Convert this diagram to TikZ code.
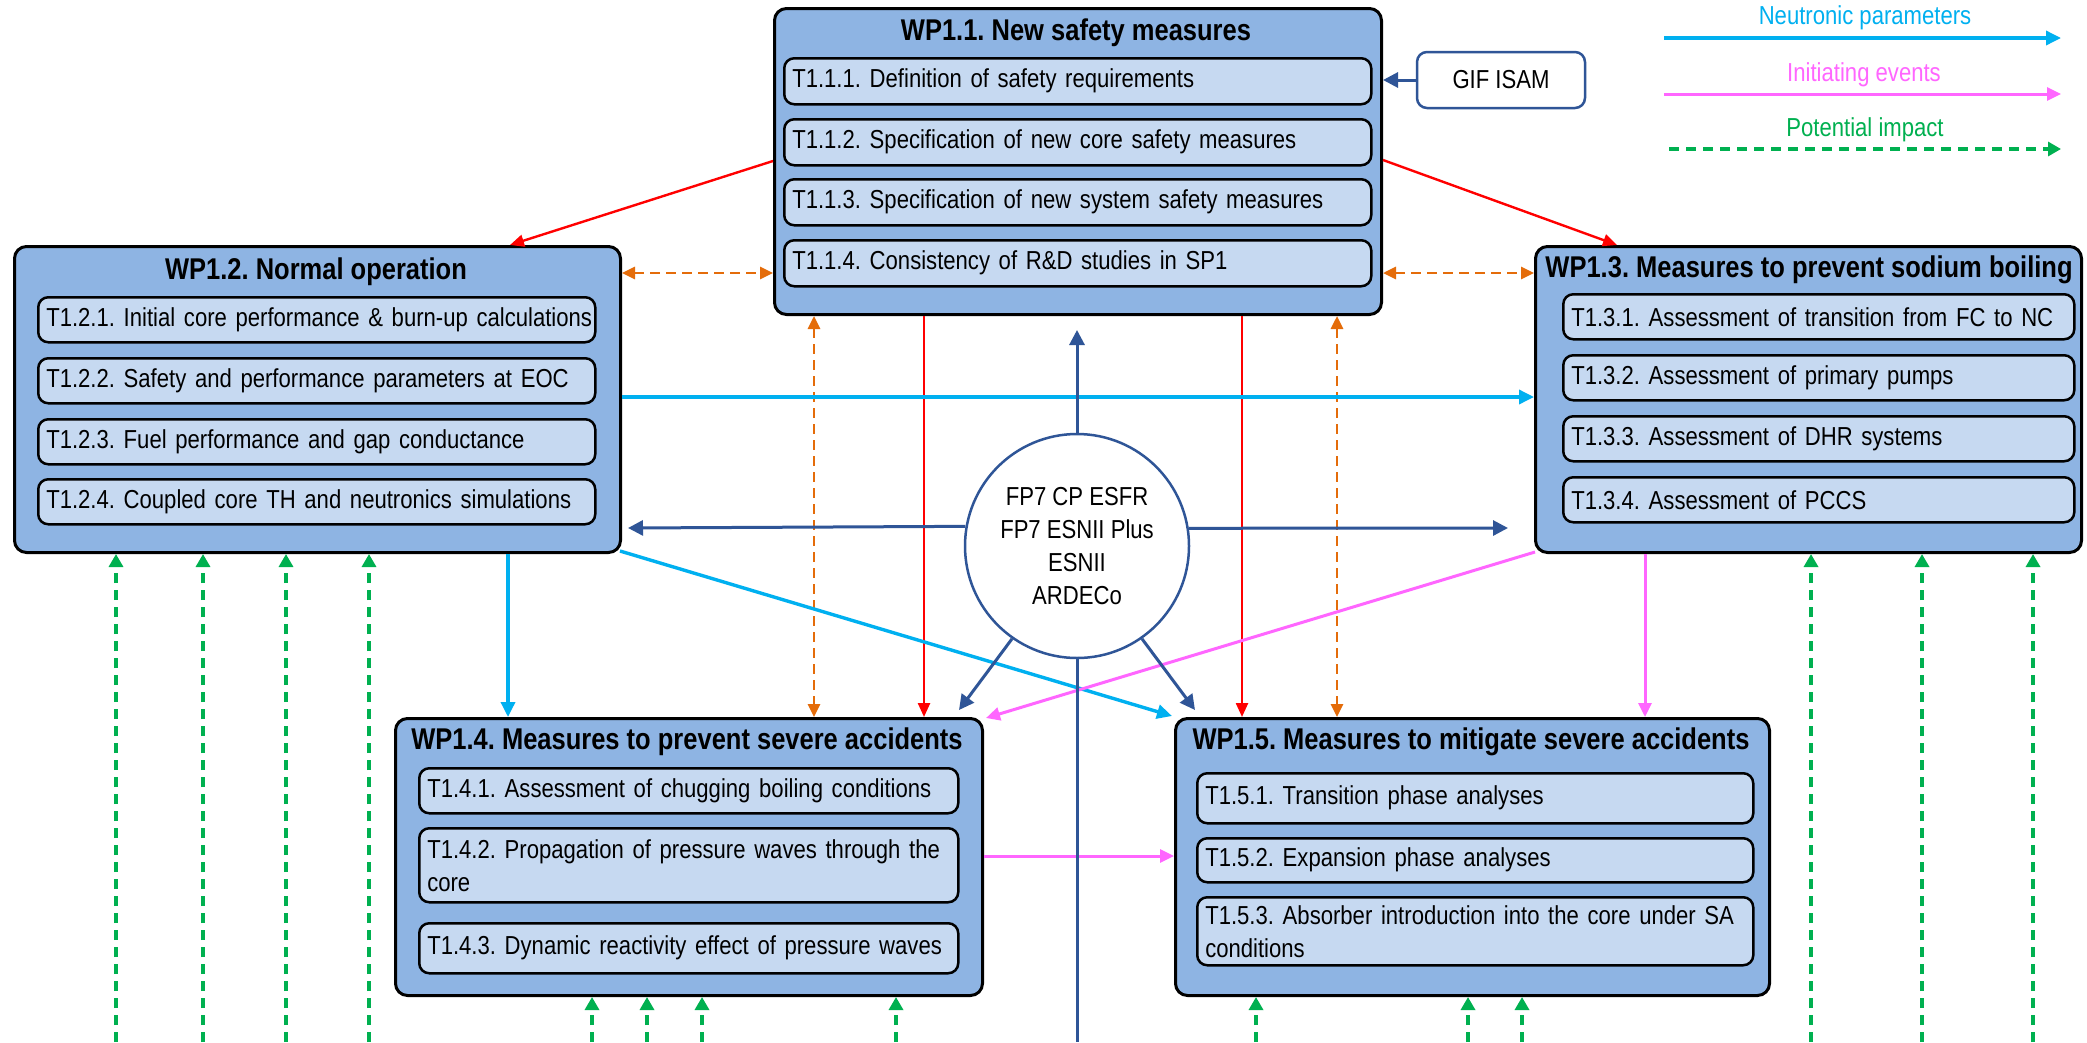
\documentclass[tikz,border=0pt]{standalone}
\usepackage{fontspec}
\setmainfont{Liberation Sans}[FakeStretch=0.85]
\usetikzlibrary{arrows.meta,calc}
\definecolor{wpfill}{HTML}{8EB4E3}
\definecolor{tkfill}{HTML}{C6D9F1}
\definecolor{dblue}{HTML}{2F5597}
\definecolor{ncyan}{HTML}{00B0F0}
\definecolor{nmag}{HTML}{FF66FF}
\definecolor{norange}{HTML}{E46C0A}
\definecolor{ngreen}{HTML}{00B050}
\frenchspacing
\hyphenpenalty=10000
\exhyphenpenalty=10000
\begin{document}
\begin{tikzpicture}[x=1pt,y=-1pt,
  wp/.style={draw=black,line width=3pt,fill=wpfill,rounded corners=12pt,anchor=north west,inner sep=0pt},
  tk/.style={draw=black,line width=2.5pt,fill=tkfill,rounded corners=10pt,anchor=north west,inner xsep=8pt,inner ysep=0pt,align=left,font=\fontsize{26}{33}\selectfont\frenchspacing},
  ttl/.style={font=\fontsize{30}{34}\selectfont\bfseries\frenchspacing,inner sep=0pt},
  lgtxt/.style={font=\fontsize{26}{33}\selectfont,inner sep=0pt},
  redarr/.style={draw=red,line width=2.4pt,-{Triangle[length=14pt,width=12pt]}},
  orarr/.style={draw=norange,line width=2.8pt,dash pattern=on 10pt off 6pt,{Triangle[length=13pt,width=12pt]}-{Triangle[length=13pt,width=12pt]}},
  cyarr/.style={draw=ncyan,line width=3.4pt,-{Triangle[length=15pt,width=14pt]}},
  magarr/.style={draw=nmag,line width=3pt,-{Triangle[length=14pt,width=13pt]}},
  dbarr/.style={draw=dblue,line width=3pt,-{Triangle[length=15pt,width=15pt]}},
  grarr/.style={draw=ngreen,line width=3.2pt,dash pattern=on 10pt off 7pt,-{Triangle[length=13pt,width=14pt]}}
]
\useasboundingbox (0,0) rectangle (2087,1042);
\fill[white] (0,0) rectangle (2087,1042);

% ---------- WP1.1
\node[wp,minimum width=607pt,minimum height=306pt] (wpa) at (773,7) {};
\node[ttl] (wpat) at (1076,33) {WP1.1. New safety measures};
\node[tk,text width=571pt,minimum height=46pt] (t111) at (783,57) {\mbox{T1.1.1. Definition of safety requirements}};
\node[tk,text width=571pt,minimum height=46pt] (t112) at (783,118) {\mbox{T1.1.2. Specification of new core safety measures}};
\node[tk,text width=571pt,minimum height=46pt] (t113) at (783,178) {\mbox{T1.1.3. Specification of new system safety measures}};
\node[tk,text width=571pt,minimum height=46pt] (t114) at (783,239) {\mbox{T1.1.4. Consistency of R\&D studies in SP1}};

% ---------- WP1.2
\node[wp,minimum width=606pt,minimum height=306pt] (wpb) at (13,245) {};
\node[ttl] (wpbt) at (316,272) {WP1.2. Normal operation};
\node[tk,text width=541pt,minimum height=45pt] (t121) at (37,296) {\mbox{T1.2.1. Initial core performance \& burn-up calculations}};
\node[tk,text width=541pt,minimum height=45pt] (t122) at (37,357) {\mbox{T1.2.2. Safety and performance parameters at EOC}};
\node[tk,text width=541pt,minimum height=45pt] (t123) at (37,418) {\mbox{T1.2.3. Fuel performance and gap conductance}};
\node[tk,text width=541pt,minimum height=45pt] (t124) at (37,478) {\mbox{T1.2.4. Coupled core TH and neutronics simulations}};

% ---------- WP1.3
\node[wp,minimum width=546pt,minimum height=306pt] (wpc) at (1534,245) {};
\node[ttl] (wpct) at (1809,270) {WP1.3. Measures to prevent sodium boiling};
\node[tk,text width=495pt,minimum height=45pt] (t131) at (1562,293) {\mbox{T1.3.1. Assessment of transition from FC to NC}};
\node[tk,text width=495pt,minimum height=45pt] (t132) at (1562,354) {\mbox{T1.3.2. Assessment of primary pumps}};
\node[tk,text width=495pt,minimum height=45pt] (t133) at (1562,415) {\mbox{T1.3.3. Assessment of DHR systems}};
\node[tk,text width=495pt,minimum height=45pt] (t134) at (1562,476) {\mbox{T1.3.4. Assessment of PCCS}};

% ---------- WP1.4
\node[wp,minimum width=587pt,minimum height=277pt] (wpd) at (394,717) {};
\node[ttl] (wpdt) at (687,742) {WP1.4. Measures to prevent severe accidents};
\node[tk,text width=523pt,minimum height=45pt] (t141) at (418,767) {\mbox{T1.4.1. Assessment of chugging boiling conditions}};
\node[tk,text width=523pt,minimum height=74pt] (t142) at (418,827) {\mbox{T1.4.2. Propagation of pressure waves through the}\\core};
\node[tk,text width=523pt,minimum height=50pt] (t143) at (418,922) {\mbox{T1.4.3. Dynamic reactivity effect of pressure waves}};

% ---------- WP1.5
\node[wp,minimum width=594pt,minimum height=277pt] (wpe) at (1174,717) {};
\node[ttl] (wpet) at (1471,742) {WP1.5. Measures to mitigate severe accidents};
\node[tk,text width=540pt,minimum height=50pt] (t151) at (1196,772) {\mbox{T1.5.1. Transition phase analyses}};
\node[tk,text width=540pt,minimum height=44pt] (t152) at (1196,837) {\mbox{T1.5.2. Expansion phase analyses}};
\node[tk,text width=540pt,minimum height=68pt] (t153) at (1196,896) {\mbox{T1.5.3. Absorber introduction into the core under SA}\\conditions};

% ---------- GIF ISAM and central circle
\node[draw=dblue,line width=2.5pt,rounded corners=10pt,fill=white,minimum width=168pt,minimum height=56pt,inner sep=0pt,font=\fontsize{26}{33}\selectfont] (gif) at (1501,80) {GIF ISAM};
\node[draw=dblue,line width=2.5pt,circle,fill=white,minimum size=224pt,inner sep=0pt,align=center,font=\fontsize{26}{33}\selectfont] (src) at (1077,546) {FP7 CP ESFR\\FP7 ESNII Plus\\ESNII\\ARDECo};

% ---------- legend
\node[lgtxt,text=ncyan] (lg1) at (1865,18) {Neutronic parameters};
\node[lgtxt,text=nmag] (lg2) at (1864,75) {Initiating events};
\node[lgtxt,text=ngreen] (lg3) at (1865,130) {Potential impact};
\coordinate (lg1s) at (1664,38); \coordinate (lg1e) at (2061,38);
\coordinate (lg2s) at (1664,94); \coordinate (lg2e) at (2061,94);
\coordinate (lg3s) at (1669,149); \coordinate (lg3e) at (2061,149);
\draw[cyarr] (lg1s) -- (lg1e);
\draw[magarr] (lg2s) -- (lg2e);
\draw[grarr] (lg3s) -- (lg3e);

% ---------- red
\draw[redarr] (wpa.west |- 0,161) -- (510,0 |- wpb.north);
\draw[redarr] (wpa.east |- 0,160) -- (1617,0 |- wpc.north);
\draw[redarr] (924,0 |- wpa.south) -- (924,0 |- wpd.north);
\draw[redarr] (1242,0 |- wpa.south) -- (1242,0 |- wpe.north);

% ---------- orange
\draw[orarr] (wpb.east |- 0,273) -- (wpa.west |- 0,273);
\draw[orarr] (wpa.east |- 0,273) -- (wpc.west |- 0,273);
\draw[orarr] (814,0 |- wpa.south) -- (814,0 |- wpd.north);
\draw[orarr] (1337,0 |- wpa.south) -- (1337,0 |- wpe.north);

% ---------- cyan
\draw[cyarr] (wpb.east |- 0,397) -- (wpc.west |- 0,397);
\draw[cyarr] (508,0 |- wpb.south) -- (508,0 |- wpd.north);
\draw[cyarr] ($(wpb.south east)+(-2,-3)$) -- ($(wpe.north west)+(-2,-1)$);

% ---------- magenta
\draw[magarr] ($(wpc.south west)+(1,-2)$) -- ($(wpd.north east)+(2,1)$);
\draw[magarr] (1645,0 |- wpc.south) -- (1645,0 |- wpe.north);
\draw[magarr] (wpd.east |- 0,856) -- (wpe.west |- 0,856);

% ---------- dark blue
\draw[dbarr] (gif.west) -- (wpa.east |- gif.west);
\coordinate (upend) at (1077,330);
\coordinate (lfend) at (628,528);
\coordinate (rtend) at (1508,528);
\coordinate (dlend) at (959,710);
\coordinate (drend) at (1195,710);
\coordinate (dnend) at (1077,1042);
\draw[dbarr] (src.north) -- (upend);
\draw[dbarr] (src.170.8) -- (lfend);
\draw[dbarr] (src.9.2) -- (rtend);
\draw[dbarr] (src.235) -- (dlend);
\draw[dbarr] (src.305.5) -- (drend);
\draw[draw=dblue,line width=3pt] (src.south) -- (dnend);

% ---------- green
\foreach \x/\n in {116/wpb,203/wpb,286/wpb,369/wpb,592/wpd,647/wpd,702/wpd,896/wpd,1256/wpe,1468/wpe,1522/wpe,1811/wpc,1922/wpc,2033/wpc}{
  \coordinate (gs\x) at (\x,1042);
  \draw[grarr] (gs\x) -- (\x,0 |- \n.south);
}
\end{tikzpicture}
\end{document}
